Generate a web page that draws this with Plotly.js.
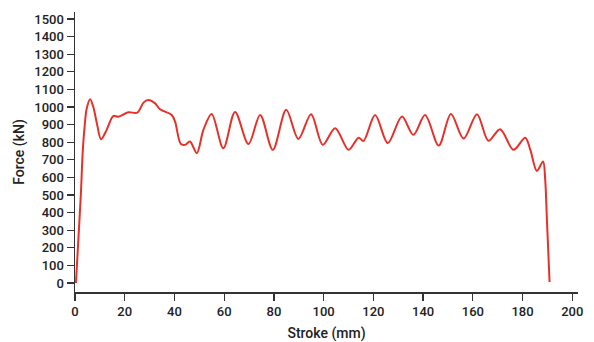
<!DOCTYPE html>
<html>
<head>
<meta charset="utf-8">
<script src="https://cdn.plot.ly/plotly-3.0.1.min.js"></script>
<style>html,body{margin:0;padding:0;background:#fff;}#chart{width:594px;height:342px;}</style>
</head>
<body>
<div id="chart"></div>
<script>
// Stroke (mm) and force (kN)
const stroke = [0.38, 1.36, 2.34, 3.12, 3.81, 4.69, 6.07, 7.34, 8.91, 10.47, 12.73, 15.37, 17.43, 21.45, 25.07, 27.53, 29.48, 32.13, 34.19, 38.89, 40.26, 42.52, 44.28, 46.24, 48.99, 51.63, 54.96, 59.66, 64.37, 69.76, 74.46, 79.56, 84.95, 89.85, 94.94, 99.65, 104.64, 110.03, 114.05, 116.01, 120.71, 125.81, 131.49, 136.10, 140.80, 146.29, 151.19, 156.29, 161.67, 166.28, 170.98, 176.37, 181.08, 183.13, 185.78, 188.23, 189.11, 189.80, 190.87];
const force  = [0, 250, 500, 750, 880, 990, 1044, 1002, 900, 817, 870, 949, 945, 970, 968, 1025, 1040, 1022, 987, 955, 917, 791, 785, 804, 738, 870, 961, 766, 972, 790, 955, 757, 984, 819, 959, 785, 880, 757, 826, 807, 955, 795, 946, 842, 955, 781, 961, 821, 959, 808, 874, 757, 826, 757, 637, 690, 586, 359, 6];

const yTicks = [0,100,200,300,400,500,600,700,800,900,1000,1100,1200,1300,1400,1500];
const xTicks = [0,20,40,60,80,100,120,140,160,180,200];

const tickFont = {family: 'Roboto, sans-serif', size: 13, color: '#222', weight: 500};
const titleFont = {family: 'Roboto, sans-serif', size: 14, color: '#222', weight: 500};

Plotly.newPlot('chart', [{
  x: stroke, y: force, type: 'scatter', mode: 'lines',
  line: {color: '#e8302a', width: 2, shape: 'spline', smoothing: 0.9},
  hoverinfo: 'skip'
}], {
  width: 594, height: 342,
  margin: {l: 75, r: 16, t: 12, b: 50},
  paper_bgcolor: '#fff', plot_bgcolor: '#fff',
  showlegend: false,
  xaxis: {
    range: [0, 202.3], tickvals: xTicks, ticktext: xTicks.map(String),
    ticks: 'outside', ticklen: 7, tickwidth: 1.3, tickcolor: '#333',
    showline: true, linecolor: '#333', linewidth: 1.5,
    showgrid: false, zeroline: false, tickfont: tickFont,
    title: {text: 'Stroke (mm)', font: titleFont, standoff: 10}
  },
  yaxis: {
    range: [-51, 1540], tickvals: yTicks, ticktext: yTicks.map(String),
    ticks: 'outside', ticklen: 7, tickwidth: 1.3, tickcolor: '#333',
    showline: true, linecolor: '#333', linewidth: 1.5,
    showgrid: false, zeroline: false, tickfont: tickFont,
    title: {text: 'Force (kN)', font: titleFont, standoff: 6}
  }
}, {displayModeBar: false, staticPlot: true});
</script>
</body>
</html>
